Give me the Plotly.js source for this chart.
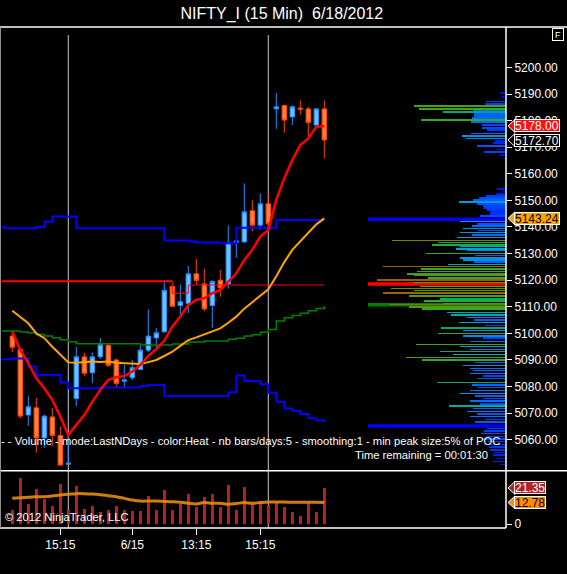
<!DOCTYPE html>
<html><head><meta charset="utf-8">
<script src="https://cdn.plot.ly/plotly-3.0.1.min.js"></script>
<style>html,body{margin:0;padding:0;background:#000;}#chart{width:567px;height:574px;}</style>
</head><body><div id="chart"></div>
<script>
// ---------- DATA ----------
const xTickBars = [6, 15, 23, 31];
const xTickLabels = ['15:15', '6/15', '13:15', '15:15'];
const sessionStartBars = [7, 32];

const open  = [5099.0,5094.0,5069.3,5072.0,5060.7,5068.6,5061.6,5050.8,5075.5,5091.2,5085.2,5091.2,5095.5,5090.0,5082.0,5083.3,5086.4,5093.7,5098.3,5100.6,5117.7,5110.5,5111.2,5122.4,5118.6,5110.5,5120.0,5118.6,5134.3,5134.4,5146.1,5140.7,5148.7,5184.4,5185.7,5181.4,5184.7,5184.4,5178.3,5184.4];
const high  = [5101.0,5094.5,5076.4,5075.8,5069.5,5072.0,5065.0,5061.2,5095.0,5092.7,5092.8,5098.3,5096.2,5090.5,5088.3,5090.0,5095.2,5109.0,5102.0,5120.0,5118.0,5118.4,5125.3,5128.0,5124.3,5120.0,5123.8,5140.6,5136.5,5156.4,5150.0,5152.6,5152.6,5190.4,5186.0,5185.7,5187.6,5185.2,5184.7,5187.6];
const low   = [5093.0,5068.0,5065.2,5055.1,5057.0,5057.6,5050.3,5050.6,5072.6,5083.9,5081.4,5090.4,5087.4,5079.2,5079.6,5082.4,5086.2,5093.0,5094.2,5100.2,5110.0,5107.1,5107.7,5118.4,5108.3,5102.1,5113.8,5116.8,5128.4,5134.1,5138.4,5139.0,5139.0,5176.9,5175.4,5178.3,5182.3,5172.6,5178.0,5165.8];
const close = [5094.8,5068.9,5072.4,5060.7,5068.9,5061.6,5050.5,5051.2,5091.2,5085.0,5091.2,5095.8,5088.0,5081.2,5082.5,5087.1,5093.7,5099.0,5100.2,5116.2,5110.2,5111.9,5122.4,5119.9,5109.2,5119.5,5117.1,5134.1,5134.7,5145.7,5140.7,5148.7,5141.2,5185.2,5180.2,5185.2,5184.3,5179.2,5184.4,5172.7];

const emaLine = [5100.6,5093.8,5088.8,5083.1,5079.4,5075.0,5068.7,5061.8,5065.6,5069.3,5074.3,5078.7,5082.5,5083.5,5084.0,5085.6,5088.1,5091.5,5094.1,5097.2,5102.5,5106.3,5110.7,5112.6,5113.2,5115.1,5116.3,5119.4,5122.6,5127.6,5131.4,5136.4,5138.9,5150.2,5158.3,5165.2,5170.8,5173.3,5177.7,5178.0];
const smaLine = [5108.5,5106.3,5103.8,5100.0,5098.2,5095.0,5091.9,5089.1,5089.0,5089.2,5089.4,5089.2,5089.4,5089.0,5088.8,5088.5,5088.5,5089.2,5090.0,5091.5,5093.1,5095.3,5097.5,5098.5,5099.6,5100.8,5101.9,5104.0,5106.3,5109.3,5111.7,5114.0,5116.6,5121.5,5126.8,5131.4,5134.5,5138.0,5141.0,5143.24];

// step lines, starting two bars before the first visible bar (bar -2)
const upperBand = [5140.1,5139.5,5139.5,5139.5,5139.5,5140.0,5142.0,5143.9,5143.9,5143.9,
  5139.5,5139.5,5139.5,5139.5,5139.5,5139.5,5139.5,5139.5,5139.5,5139.5,5139.5,
  5134.9,5134.9,5134.9,5134.5,5134.2,5134.2,5134.2,5133.9,5133.9,
  5139.7,5139.7,5139.7,5139.7,5139.7,5142.6,5142.6,5142.6,5142.6,5142.6,5142.6,5142.6];
const lowerBand = [5090.3,5090.3,5090.6,5090.6,5087.5,5084.4,5084.4,5084.4,5081.5,5079.4,5079.4,5079.4,5079.4,
  5079.7,5079.7,5079.7,5079.7,5079.7,5080.2,5080.6,5080.6,
  5076.5,5076.5,5076.5,5076.5,5076.5,5076.5,5076.5,5076.5,
  5077.9,5084.2,5082.1,5082.1,5080.9,5077.7,5074.3,5071.8,5070.8,5069.7,5068.1,5067.3,5066.7];
const greenLevel = [5100.9,5100.9,5100.9,5100.5,5100.2,5099.6,5099.0,5098.4,5097.6,5096.9,
  5096.1,5096.1,5096.1,5096.1,5096.1,5096.1,5096.1,5096.1,5095.6,5095.6,5095.6,5095.6,
  5096.0,5096.0,5096.8,5096.8,5097.1,5097.1,5097.1,
  5097.8,5098.2,5099.0,5099.5,5100.4,5101.5,5104.7,5105.9,5106.7,5107.6,5108.5,5109.4,5110.3];
const redLevelPrev = [5119.6,5119.6,5119.6,5119.6,5119.6,5119.6,5119.6,5119.6,5119.6,5119.6,5119.6,5119.6,
  5119.6,5119.6,5119.6,5119.6,5119.6,5119.6,5119.6,5119.6,5119.6,5119.6,5119.6]; // bars -2..20
const redLevelDev = [5119.6,5115.1,5115.1,5118.2,5118.2,5118.2,5118.2,5118.2,5118.2,5118.2,5118.2,5118.2,
  5118.2,5118.2,5118.2,5118.2,5118.2,5118.2,5118.2,5118.2,5118.2]; // bars 19..39

const volume = [8.3,27.5,12.1,20.8,14.8,10.7,23.7,8.3,22.5,8.9,10.7,7.1,8.3,10.7,8.3,7.7,7.7,16.6,8.3,20.2,8.3,11.7,17.8,10.1,16.0,17.8,10.1,23.1,8.3,21.9,11.7,13.0,11.3,13.0,10.1,7.1,4.7,12.5,7.1,21.35];
const volumeSma = [15.2,15.6,15.8,16.2,16.2,16.6,17.2,17.6,18.0,18.0,17.8,17.4,16.8,16.2,15.2,14.2,13.6,13.6,13.6,13.4,13.2,12.9,12.3,11.9,12.7,12.3,12.3,11.7,12.1,12.7,12.3,12.7,13.0,13.0,13.0,12.9,12.9,12.9,12.9,12.78];

// volume profile (price row, relative volume)
const profilePrice = [5190.3,5188.8,5187.1,5186.2,5185.5,5184.4,5183.7,5183.2,5182.5,5181.7,5181.0,5180.2,5179.5,5178.3,5177.2,5176.5,5175.2,5174.2,5173.3,5172.4,5171.5,5170.5,5169.2,5168.2,5167.1,5165.8,
  5155.2,5154.2,5153.3,5152.4,5151.7,5150.9,5150.2,5149.4,5148.6,5147.9,5147.1,5146.4,5145.6,5144.9,5144.1,
  5142.0,5141.1,5140.4,5139.5,5138.6,5137.9,5137.0,5136.0,5135.0,5134.2,5133.3,5132.6,5131.8,5131.1,5130.1,5129.2,5128.3,5127.6,5126.8,5126.0,5125.1,5124.2,5123.3,5122.4,5121.7,5120.8,5120.0,5119.2,
  5117.7,5116.8,5116.1,5115.1,5114.0,5113.0,5112.2,5111.3,5110.8,5110.0,5109.1,5107.9,5107.0,5106.0,5105.0,5104.0,5103.0,5102.0,5101.0,5100.0,5099.0,5098.2,5096.9,5095.9,5095.0,5094.0,5093.1,5092.1,5091.0,5090.0,5089.0,5087.9,5086.9,5086.0,5085.0,5084.0,5083.0,5081.6,5080.6,5079.6,5078.6,5077.5,5076.5,5075.5,5074.5,5073.5,5072.7,5071.7,5070.7,5069.7,5068.7,5067.7,5066.7,
  5064.3,5063.3,5062.3,5061.3,5060.3,5059.3,5058.3,5057.3,5056.2,5055.2,5054.3,5053.0,5051.8,5050.8];
const profileVolume = [6,4,20,21,92,87,33,63,32,32,34,85,35,24,24,19,35,44,40,11,13,29,9,22,6,3,
  3,9,4,10,20,27,33,47,29,23,22,19,16,16,26,
  46,29,34,43,28,46,34,49,114,68,74,46,50,39,80,31,46,43,32,58,123,85,89,99,92,78,129,93,
  86,115,92,123,97,66,82,63,117,97,84,59,55,39,32,47,21,65,43,68,43,23,36,90,46,36,66,53,100,84,31,43,36,33,36,23,29,69,34,28,36,46,31,23,36,26,57,33,39,29,36,21,31,
  19,22,25,20,24,18,22,17,16,12,13,9,13,6];
const pocVolume = 138;
const profileLevels = [5142.9, 5118.6, 5110.8, 5065.2];
const profileLevelColors = ['#0000ff', '#ff0000', '#008000', '#0000ff'];

const priceTicks = [5060,5070,5080,5090,5100,5110,5120,5130,5140,5150,5160,5170,5180,5190,5200];

// ---------- LAYOUT CONSTANTS ----------
const FONT = 'Liberation Sans, Arial, sans-serif';
const barIdx = close.map((_, i) => i);
const stepIdx = [-2, -1].concat(barIdx);
const xr = [-1.2875, 61.7125];
const priceDomain = [0.1144, 1];
const volDomain = [0, 0.1138];

const traces = [];
// volume profile rows (overlay axis, growing from right edge)
traces.push({
  type: 'bar', orientation: 'h', xaxis: 'x2', yaxis: 'y',
  x: profileVolume, y: profilePrice, width: 0.55,
  marker: { color: profileVolume, cmin: 0, cmax: pocVolume, line: { width: 0 },
    colorscale: [[0, '#0000b0'], [0.12, '#0030ff'], [0.22, '#0058ff'], [0.3, '#0088f0'],
      [0.37, '#00a8c8'], [0.46, '#00a878'], [0.56, '#20b030'], [0.68, '#48a010'],
      [0.8, '#708800'], [0.9, '#9a6400'], [0.96, '#a85000'], [1, '#ff0000']] },
  hoverinfo: 'skip', showlegend: false
});
// step lines
function step(x, y, color, w) {
  return { type: 'scatter', mode: 'lines', x: x, y: y, line: { shape: 'hv', color: color, width: w },
    hoverinfo: 'skip', showlegend: false, xaxis: 'x', yaxis: 'y' };
}
traces.push(step(stepIdx, greenLevel, '#008000', 1.5));
traces.push(step(stepIdx, upperBand, '#0000ff', 2));
traces.push(step(stepIdx, lowerBand, '#0000ff', 2));
traces.push(step(stepIdx.slice(0, redLevelPrev.length), redLevelPrev, '#ff0000', 1.8));
traces.push(step(barIdx.slice(19), redLevelDev, '#ff0000', 1));
// candles
traces.push({
  type: 'candlestick', x: barIdx, open: open, high: high, low: low, close: close,
  xaxis: 'x', yaxis: 'y', whiskerwidth: 0,
  increasing: { line: { color: '#1e90ff', width: 1 }, fillcolor: '#70c0ff' },
  decreasing: { line: { color: '#ff4500', width: 1 }, fillcolor: '#ff8040' },
  hoverinfo: 'skip', showlegend: false
});
// moving averages
traces.push({ type: 'scatter', mode: 'lines', x: barIdx, y: smaLine, line: { color: '#ffa500', width: 2 }, hoverinfo: 'skip', showlegend: false });
traces.push({ type: 'scatter', mode: 'lines', x: barIdx, y: emaLine, line: { color: '#ff0000', width: 2.5 }, hoverinfo: 'skip', showlegend: false });
// volume
traces.push({ type: 'bar', x: barIdx, y: volume, xaxis: 'x', yaxis: 'y2', width: 0.33,
  marker: { color: '#b22222', line: { width: 0 } }, hoverinfo: 'skip', showlegend: false });
traces.push({ type: 'scatter', mode: 'lines', x: barIdx, y: volumeSma, xaxis: 'x', yaxis: 'y2',
  line: { color: '#e88a10', width: 3, shape: 'spline' }, opacity: 0.9, hoverinfo: 'skip', showlegend: false });

// ---------- SHAPES ----------
const shapes = [];
// profile level lines (under rows)
profileLevels.forEach((lv, i) => shapes.push({ type: 'line', xref: 'x2', yref: 'y', x0: 0, x1: pocVolume, y0: lv, y1: lv,
  line: { color: profileLevelColors[i], width: 3.5 }, layer: 'below' }));
// session breaks
sessionStartBars.forEach(b => shapes.push({ type: 'line', xref: 'x', yref: 'paper', x0: b, x1: b, y0: 0, y1: 0.984,
  line: { color: '#c8c8c8', width: 1 }, layer: 'below' }));
// frame
const px = v => (v - 2) / 504;
const py = v => (528 - v) / 501;
shapes.push({ type: 'line', xref: 'paper', yref: 'paper', x0: px(0), x1: px(567), y0: 1, y1: 1, line: { color: '#ffffff', width: 1.5 } });
shapes.push({ type: 'line', xref: 'paper', yref: 'paper', x0: 1, x1: 1, y0: 0, y1: 1, line: { color: '#ffffff', width: 1.5 } });
shapes.push({ type: 'line', xref: 'paper', yref: 'paper', x0: px(0), x1: px(567), y0: py(470.7), y1: py(470.7), line: { color: '#ffffff', width: 1.5 } });
shapes.push({ type: 'line', xref: 'paper', yref: 'paper', x0: px(0), x1: 1, y0: 0, y1: 0, line: { color: '#ffffff', width: 1.5 } });
shapes.push({ type: 'line', xref: 'paper', yref: 'paper', x0: px(0.5), x1: px(0.5), y0: 0, y1: 1, line: { color: '#909090', width: 1 } });

// ---------- ANNOTATIONS / MARKERS ----------
const annotations = [];
function marker(value, yref, bg, fg, txt) {
  shapes.push({ type: 'path', xref: 'paper', yref: yref, xsizemode: 'pixel', ysizemode: 'pixel',
    xanchor: 1, yanchor: value, path: 'M 2 0 L 9 -6.5 L 9 6.5 Z', fillcolor: bg, line: { color: '#ffffff', width: 1 } });
  annotations.push({ xref: 'paper', yref: yref, x: 1, y: value, xanchor: 'left', yanchor: 'middle', xshift: 8,
    text: txt, showarrow: false, bgcolor: bg, bordercolor: '#ffffff', borderwidth: 1, borderpad: 0, height: 11,
    font: { family: FONT, size: 12, color: fg } });
}
marker(emaLine[emaLine.length - 1], 'y', '#ff1010', '#ffffff', emaLine[emaLine.length - 1].toFixed(2));
marker(close[close.length - 1], 'y', '#000000', '#ffffff', close[close.length - 1].toFixed(2));
marker(smaLine[smaLine.length - 1], 'y', '#ffa500', '#000000', smaLine[smaLine.length - 1].toFixed(2));
marker(volume[volume.length - 1], 'y2', '#b22222', '#ffffff', volume[volume.length - 1].toFixed(2));
marker(volumeSma[volumeSma.length - 1], 'y2', '#ff8c00', '#000000', volumeSma[volumeSma.length - 1].toFixed(2));

const infoFont = { family: FONT, size: 11.2, color: '#ffffff' };
annotations.push({ xref: 'paper', yref: 'paper', x: px(502), y: py(441), xanchor: 'right', yanchor: 'middle', showarrow: false,
  text: '- - Volume - mode:LastNDays - color:Heat - nb bars/days:5 - smoothing:1 - min peak size:5% of POC',
  font: infoFont });
annotations.push({ xref: 'paper', yref: 'paper', x: px(490), y: py(455), xanchor: 'right', yanchor: 'middle', showarrow: false,
  text: 'Time remaining = 00:01:30', font: infoFont });
annotations.push({ xref: 'paper', yref: 'paper', x: px(3), y: py(517), xanchor: 'left', yanchor: 'middle', showarrow: false,
  text: '© 2012 NinjaTrader, LLC', font: infoFont });
annotations.push({ xref: 'paper', yref: 'paper', x: px(558), y: py(35), xanchor: 'center', yanchor: 'middle', showarrow: false,
  text: 'F', bgcolor: '#000000', bordercolor: '#ffffff', borderwidth: 1, borderpad: 1, width: 8, height: 9,
  font: { family: FONT, size: 9, color: '#ffffff' } });

const axisFont = { family: FONT, size: 12, color: '#ffffff' };
const layout = {
  width: 567, height: 574,
  paper_bgcolor: '#000000', plot_bgcolor: '#000000',
  margin: { l: 2, r: 61, t: 27, b: 46, pad: 0 },
  title: { text: 'NIFTY_I (15 Min)\u00a0 6/18/2012', font: { family: FONT, size: 16, color: '#ffffff' },
    x: 0.497, xanchor: 'center', y: 1 - 13 / 574, yanchor: 'middle', yref: 'container' },
  showlegend: false, dragmode: false, hovermode: false,
  boxgap: 0.45, boxgroupgap: 0, bargap: 0,
  xaxis: { domain: [0, 1], range: xr, anchor: 'y2', showgrid: false, zeroline: false, showline: false,
    tickmode: 'array', tickvals: xTickBars, ticktext: xTickLabels, ticks: 'outside', ticklen: 6, tickcolor: '#ffffff',
    tickfont: axisFont, rangeslider: { visible: false }, fixedrange: true },
  xaxis2: { overlaying: 'x', anchor: 'y', range: [504, 0], visible: false, fixedrange: true },
  yaxis: { domain: priceDomain, range: [5048.38, 5215.19], side: 'right', anchor: 'x', showgrid: false, zeroline: false,
    showline: false, tickmode: 'array', tickvals: priceTicks, ticktext: priceTicks.map(v => v.toFixed(2)),
    ticks: 'outside', ticklen: 5, tickcolor: '#ffffff', tickfont: axisFont, fixedrange: true },
  yaxis2: { domain: volDomain, range: [-2.37, 31.43], side: 'right', anchor: 'x', showgrid: false, zeroline: false,
    showline: false, tickmode: 'array', tickvals: [0], ticktext: ['0'], ticks: 'outside', ticklen: 5,
    tickcolor: '#ffffff', tickfont: axisFont, fixedrange: true },
  shapes: shapes, annotations: annotations
};
Plotly.newPlot('chart', traces, layout, { staticPlot: true, displayModeBar: false });
</script></body></html>
